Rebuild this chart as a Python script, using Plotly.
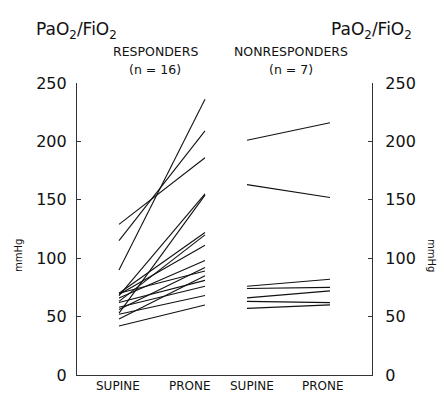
import plotly.graph_objects as go

# ---- data (PaO2/FiO2, mmHg) ----
groups = ["RESPONDERS", "NONRESPONDERS"]
group_n = [16, 7]
positions = ["SUPINE", "PRONE"]

resp_supine = [129, 115, 90, 68, 53, 70, 63, 69, 66, 56, 70, 48, 62, 58, 52, 42]
resp_prone = [186, 209, 236, 155, 154, 122, 120, 111, 98, 92, 89, 85, 81, 76, 68, 60]

nonresp_supine = [201, 163, 76, 74, 66, 63, 57]
nonresp_prone = [216, 152, 82, 75, 72, 62, 60]

y_ticks = [0, 50, 100, 150, 200, 250]

# ---- layout geometry (pixels) ----
W, H = 444, 395
L, R, T, B = 77, 372, 83, 375
x_slots = {("RESPONDERS", "SUPINE"): 42, ("RESPONDERS", "PRONE"): 128,
           ("NONRESPONDERS", "SUPINE"): 170, ("NONRESPONDERS", "PRONE"): 253}


def px(x):
    return (x - L) / (R - L)


def py(y):
    return (B - y) / (B - T)


fig = go.Figure()
line_style = dict(color="#111111", width=1.1)
for g, sup, pro in [("RESPONDERS", resp_supine, resp_prone),
                    ("NONRESPONDERS", nonresp_supine, nonresp_prone)]:
    xs = [x_slots[(g, "SUPINE")], x_slots[(g, "PRONE")]]
    for a, b in zip(sup, pro):
        fig.add_trace(go.Scatter(x=xs, y=[a, b], mode="lines", line=line_style,
                                 showlegend=False, hoverinfo="skip"))

# invisible trace for right axis
fig.add_trace(go.Scatter(x=[0], y=[0], yaxis="y2", mode="markers",
                         marker=dict(opacity=0), showlegend=False, hoverinfo="skip"))

tick_font = dict(family="DejaVu Sans", size=16, color="#111111")
fig.update_layout(
    width=W, height=H,
    margin=dict(l=L, r=W - R, t=T, b=H - B, autoexpand=False),
    plot_bgcolor="white", paper_bgcolor="white",
    xaxis=dict(range=[0, R - L], showline=True, linecolor="#333333", linewidth=1.2,
               showticklabels=False, ticks="", showgrid=False, zeroline=False, fixedrange=True),
    yaxis=dict(range=[0, 250], tickvals=y_ticks, showline=True, linecolor="#333333",
               linewidth=1.2, ticks="inside", ticklen=4, tickcolor="#333333",
               showgrid=False, zeroline=False, tickfont=tick_font, ticklabelstandoff=6),
    yaxis2=dict(range=[0, 250], tickvals=y_ticks, overlaying="y", side="right",
                showline=True, linecolor="#333333", linewidth=1.2, ticks="inside",
                ticklen=4, tickcolor="#333333", showgrid=False, zeroline=False,
                tickfont=tick_font, ticklabelstandoff=9),
)

label_font = dict(family="DejaVu Sans", size=12.5, color="#111111")
bottom_font = dict(family="DejaVu Sans", size=12, color="#111111")
title_font = dict(family="DejaVu Sans", size=17, color="#111111")
ann = []
ratio = "PaO<sub>2</sub>/FiO<sub>2</sub>"
ann.append(dict(x=px(34), y=py(31), text=ratio, xanchor="left", yanchor="middle", font=title_font))
ann.append(dict(x=px(414), y=py(31), text=ratio, xanchor="right", yanchor="middle", font=title_font))
hdr_x = {"RESPONDERS": 155, "NONRESPONDERS": 291}
for g, n in zip(groups, group_n):
    ann.append(dict(x=px(hdr_x[g]), y=py(52), text=g, xanchor="center", yanchor="middle", font=label_font))
    ann.append(dict(x=px(hdr_x[g]), y=py(70), text=f"(n = {n})", xanchor="center", yanchor="middle", font=label_font))
lbl_x = {("RESPONDERS", "SUPINE"): 118, ("RESPONDERS", "PRONE"): 190,
         ("NONRESPONDERS", "SUPINE"): 252, ("NONRESPONDERS", "PRONE"): 323}
for g in groups:
    for p in positions:
        ann.append(dict(x=px(lbl_x[(g, p)]), y=py(386), text=p, xanchor="center",
                        yanchor="middle", font=bottom_font))
small = dict(family="DejaVu Sans", size=10, color="#111111")
ann.append(dict(x=px(18), y=py(256), text="mmHg", textangle=-90, xanchor="center",
                yanchor="middle", font=small))
ann.append(dict(x=px(432), y=py(256), text="mmHg", textangle=90, xanchor="center",
                yanchor="middle", font=small))
for a in ann:
    a.update(xref="paper", yref="paper", showarrow=False)
fig.update_layout(annotations=ann)

fig.write_html("out.html", config={"displayModeBar": False},
               post_script="document.body.style.margin='0';document.body.style.overflow='hidden';")
